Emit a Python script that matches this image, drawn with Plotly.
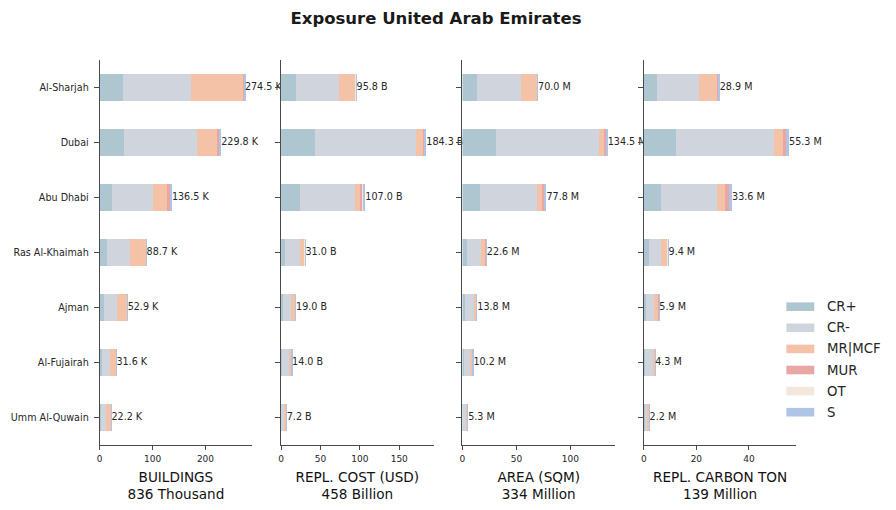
import plotly.graph_objects as go

regions = ["Al-Sharjah", "Dubai", "Abu Dhabi", "Ras Al-Khaimah", "Ajman", "Al-Fujairah", "Umm Al-Quwain"]
classes = ["CR+", "CR-", "MR|MCF", "MUR", "OT", "S"]
colors = ["#aec6cf", "#d0d5dd", "#f4c3a7", "#e8a7a2", "#f3e8dd", "#b0c4e6"]

# values per class, order of regions
buildings = {
    "CR+":    [43.2, 45.1, 24.1, 14.6, 8.9, 5.1, 2.5],
    "CR-":    [129.5, 139.0, 76.2, 41.9, 23.5, 15.2, 10.2],
    "MR|MCF": [97.8, 38.1, 26.7, 30.5, 19.0, 10.2, 9.3],
    "MUR":    [1.8, 3.8, 5.7, 0.3, 1.0, 0.3, 0.1],
    "OT":     [0.3, 0.8, 1.0, 1.0, 0.3, 0.6, 0.05],
    "S":      [1.9, 3.0, 2.8, 0.4, 0.2, 0.2, 0.05],
}
repl_cost = {
    "CR+":    [18.4, 42.7, 23.5, 5.6, 2.6, 1.3, 0.4],
    "CR-":    [55.1, 128.2, 70.5, 17.9, 10.6, 9.4, 3.4],
    "MR|MCF": [20.5, 10.3, 7.3, 6.6, 5.2, 2.6, 3.2],
    "MUR":    [0.3, 1.3, 2.5, 0.3, 0.3, 0.2, 0.1],
    "OT":     [1.0, 0.2, 0.3, 0.3, 0.2, 0.4, 0.05],
    "S":      [0.5, 1.6, 2.9, 0.3, 0.1, 0.1, 0.05],
}
area = {
    "CR+":    [13.8, 30.8, 16.7, 4.4, 2.5, 1.6, 0.6],
    "CR-":    [40.6, 95.3, 52.8, 13.2, 7.9, 6.6, 3.2],
    "MR|MCF": [15.1, 6.2, 5.5, 4.6, 3.0, 1.8, 1.4],
    "MUR":    [0.3, 1.2, 1.6, 0.2, 0.3, 0.1, 0.05],
    "OT":     [0.1, 0.1, 0.1, 0.1, 0.05, 0.05, 0.03],
    "S":      [0.1, 0.9, 1.1, 0.1, 0.05, 0.05, 0.02],
}
carbon = {
    "CR+":    [5.0, 12.4, 6.7, 1.8, 0.9, 0.5, 0.25],
    "CR-":    [15.9, 37.0, 21.0, 4.9, 3.1, 2.8, 1.05],
    "MR|MCF": [7.0, 3.4, 3.2, 2.3, 1.6, 0.9, 0.85],
    "MUR":    [0.4, 1.3, 1.5, 0.1, 0.2, 0.05, 0.03],
    "OT":     [0.2, 0.2, 0.2, 0.05, 0.05, 0.03, 0.01],
    "S":      [0.4, 1.0, 1.0, 0.25, 0.05, 0.02, 0.01],
}

panels = [buildings, repl_cost, area, carbon]
units = ["K", "B", "M", "M"]
titles = ["BUILDINGS<br>836 Thousand", "REPL. COST (USD)<br>458 Billion",
          "AREA (SQM)<br>334 Million", "REPL. CARBON TON<br>139 Million"]
dticks = [100, 50, 50, 20]

FONT = "DejaVu Sans"
TXT = "#262626"
AX = "#4a4a4a"

x_domains = [[97/896, 250/896], [279/896, 432/896], [461/896, 614/896], [643/896, 796/896]]
y_domain = [1 - 445/510, 1 - 60/510]

fig = go.Figure()
layout = {}
for i, data in enumerate(panels):
    xa = "x" if i == 0 else f"x{i+1}"
    ya = "y" if i == 0 else f"y{i+1}"
    for cls, col in zip(classes, colors):
        fig.add_trace(go.Bar(
            x=data[cls], y=regions, orientation="h", name=cls,
            marker=dict(color=col, line=dict(width=0)),
            width=0.5, xaxis=xa, yaxis=ya, showlegend=False,
        ))
    totals = [sum(data[c][j] for c in classes) for j in range(len(regions))]
    fig.add_trace(go.Scatter(
        x=totals, y=regions, mode="text",
        text=[f"{t:.1f} {units[i]}" for t in totals],
        textposition="middle right",
        textfont=dict(family=FONT, size=9.6, color=TXT),
        xaxis=xa, yaxis=ya, showlegend=False, cliponaxis=False, hoverinfo="skip",
    ))
    xkey = "xaxis" if i == 0 else f"xaxis{i+1}"
    ykey = "yaxis" if i == 0 else f"yaxis{i+1}"
    layout[xkey] = dict(
        domain=x_domains[i], anchor=ya, range=[0, max(totals) * 1.05],
        dtick=dticks[i], showgrid=False, zeroline=False,
        showline=True, linecolor=AX, linewidth=1,
        ticks="outside", ticklen=4, tickcolor=AX, ticklabelstandoff=1,
        tickfont=dict(family=FONT, size=9, color=TXT),
        title=dict(text=titles[i], standoff=9,
                   font=dict(family=FONT, size=13.6, color="#111111")),
    )
    layout[ykey] = dict(
        domain=y_domain, anchor=xa, type="category",
        categoryorder="array", categoryarray=regions, range=[6.5, -0.5],
        showgrid=False, zeroline=False, showline=True, linecolor=AX, linewidth=1,
        ticks="outside", ticklen=5, tickcolor=AX, ticklabelstandoff=3,
        showticklabels=(i == 0),
        tickfont=dict(family=FONT, size=9.6, color=TXT),
    )

# manual legend
shapes = []
annotations = []
for k, (cls, col) in enumerate(zip(classes, colors)):
    yc = 306.7 + k * 21.1
    shapes.append(dict(type="rect", xref="paper", yref="paper",
                       x0=786/896, x1=814/896, y0=1 - (yc + 4.3)/510, y1=1 - (yc - 4.3)/510,
                       fillcolor=col, line=dict(width=0)))
    annotations.append(dict(xref="paper", yref="paper", x=825/896, y=1 - yc/510,
                            text=cls, showarrow=False, xanchor="left", yanchor="middle",
                            font=dict(family=FONT, size=13.3, color=TXT)))

fig.update_layout(
    **layout,
    barmode="stack",
    width=896, height=510,
    margin=dict(l=0, r=0, t=0, b=0),
    paper_bgcolor="white", plot_bgcolor="white",
    title=dict(text="<b>Exposure United Arab Emirates</b>", x=436/896, xanchor="center",
               y=1 - 18/510, yanchor="middle",
               font=dict(family=FONT, size=16.5, color="#1a1a1a")),
    shapes=shapes, annotations=annotations,
    font=dict(family=FONT, color=TXT),
)

fig.write_html("out.html")
